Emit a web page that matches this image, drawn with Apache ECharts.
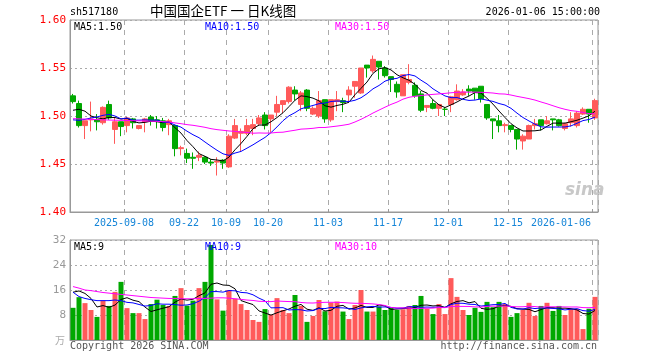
<!DOCTYPE html>
<html>
<head>
<meta charset="utf-8">
<script src="https://cdn.jsdelivr.net/npm/echarts@6/dist/echarts.min.js"></script>
<style>
html,body{margin:0;padding:0;background:#fff;}
#chart{width:660px;height:360px;}
</style>
</head>
<body>
<div id="chart"></div>
<script>
// ---- data ----
const dates = [
'2025-08-26','2025-08-27','2025-08-28','2025-08-29','2025-09-01','2025-09-02','2025-09-03','2025-09-04','2025-09-05','2025-09-08',
'2025-09-09','2025-09-10','2025-09-11','2025-09-12','2025-09-15','2025-09-16','2025-09-17','2025-09-18','2025-09-19','2025-09-22',
'2025-09-23','2025-09-24','2025-09-25','2025-09-26','2025-09-29','2025-09-30','2025-10-09','2025-10-10','2025-10-13','2025-10-14',
'2025-10-15','2025-10-16','2025-10-17','2025-10-20','2025-10-21','2025-10-22','2025-10-23','2025-10-24','2025-10-27','2025-10-28',
'2025-10-29','2025-10-30','2025-10-31','2025-11-03','2025-11-04','2025-11-05','2025-11-06','2025-11-07','2025-11-10','2025-11-11',
'2025-11-12','2025-11-13','2025-11-14','2025-11-17','2025-11-18','2025-11-19','2025-11-20','2025-11-21','2025-11-24','2025-11-25',
'2025-11-26','2025-11-27','2025-11-28','2025-12-01','2025-12-02','2025-12-03','2025-12-04','2025-12-05','2025-12-08','2025-12-09',
'2025-12-10','2025-12-11','2025-12-12','2025-12-15','2025-12-16','2025-12-17','2025-12-18','2025-12-19','2025-12-22','2025-12-23',
'2025-12-24','2025-12-25','2025-12-26','2025-12-29','2025-12-30','2025-12-31','2026-01-05','2026-01-06'
];
const opens = [
1.521,1.513,1.490,1.496,1.496,1.493,1.512,1.486,1.494,1.490,
1.497,1.487,1.494,1.499,1.496,1.495,1.491,1.490,1.466,1.461,
1.457,1.457,1.457,1.452,1.452,1.454,1.447,1.477,1.482,1.482,
1.487,1.492,1.501,1.497,1.504,1.512,1.515,1.527,1.512,1.527,
1.502,1.500,1.517,1.496,1.515,1.516,1.522,1.531,1.524,1.553,
1.547,1.557,1.550,1.541,1.533,1.521,1.535,1.532,1.523,1.509,
1.513,1.508,1.507,1.512,1.517,1.522,1.528,1.529,1.531,1.512,
1.497,1.495,1.490,1.490,1.486,1.474,1.476,1.490,1.496,1.492,
1.497,1.496,1.487,1.493,1.490,1.502,1.507,1.498
];
const closes = [
1.515,1.490,1.495,1.497,1.494,1.509,1.498,1.494,1.489,1.498,
1.493,1.490,1.497,1.495,1.495,1.488,1.495,1.466,1.467,1.456,
1.456,1.459,1.452,1.451,1.453,1.451,1.479,1.490,1.484,1.490,
1.491,1.498,1.490,1.501,1.512,1.516,1.530,1.523,1.524,1.508,
1.508,1.516,1.497,1.517,1.517,1.514,1.527,1.536,1.550,1.550,
1.559,1.551,1.542,1.538,1.525,1.543,1.538,1.521,1.506,1.511,
1.508,1.512,1.507,1.520,1.526,1.525,1.526,1.525,1.518,1.498,
1.495,1.490,1.491,1.486,1.476,1.479,1.490,1.492,1.490,1.495,
1.496,1.490,1.492,1.497,1.503,1.507,1.502,1.516
];
const lows = [
1.513,1.488,1.476,1.484,1.485,1.491,1.496,1.471,1.479,1.483,
1.487,1.486,1.483,1.490,1.487,1.484,1.480,1.458,1.459,1.451,
1.445,1.453,1.450,1.448,1.438,1.445,1.446,1.476,1.463,1.480,
1.480,1.490,1.486,1.483,1.500,1.503,1.513,1.516,1.505,1.505,
1.501,1.498,1.493,1.494,1.505,1.504,1.514,1.519,1.523,1.540,
1.545,1.538,1.540,1.525,1.519,1.521,1.533,1.519,1.504,1.504,
1.507,1.500,1.500,1.504,1.516,1.521,1.521,1.517,1.514,1.496,
1.476,1.483,1.483,1.483,1.465,1.465,1.476,1.486,1.485,1.491,
1.485,1.489,1.485,1.489,1.488,1.501,1.493,1.496
];
const highs = [
1.523,1.516,1.495,1.515,1.502,1.510,1.516,1.498,1.494,1.499,
1.498,1.490,1.498,1.501,1.500,1.498,1.497,1.491,1.469,1.466,
1.462,1.463,1.458,1.455,1.457,1.455,1.481,1.497,1.487,1.497,
1.497,1.501,1.504,1.501,1.521,1.516,1.531,1.531,1.526,1.528,
1.510,1.526,1.517,1.517,1.526,1.519,1.531,1.536,1.550,1.553,
1.563,1.557,1.552,1.541,1.536,1.543,1.554,1.535,1.526,1.511,
1.517,1.512,1.509,1.521,1.533,1.528,1.532,1.529,1.531,1.512,
1.497,1.501,1.493,1.490,1.486,1.481,1.491,1.497,1.496,1.500,
1.497,1.497,1.493,1.504,1.505,1.509,1.507,1.518
];
const volumes = [
10.3,13.7,11.8,9.6,7.4,12.6,10.9,15.4,18.6,10.2,
8.6,8.6,6.7,11.5,12.9,11.2,10.9,14.1,16.6,11.0,
12.6,16.6,18.6,30.4,13.0,9.4,16.0,13.2,11.5,9.6,
6.4,5.8,9.9,8.1,13.4,9.6,8.6,14.4,10.9,5.8,
7.7,12.8,9.2,12.0,12.3,9.1,6.7,11.2,16.0,9.1,
9.1,10.7,9.6,10.5,9.6,9.8,10.9,11.2,14.1,10.0,
8.3,11.5,8.3,19.8,13.8,9.6,8.0,10.3,9.0,12.2,
10.5,12.2,11.5,7.4,8.6,9.6,11.9,7.7,10.9,11.9,
9.3,10.9,8.0,10.0,10.0,3.5,10.0,13.8
];
// moving-average values before the window is full (earlier days not shown)
const ma5Head  = [1.506,1.507,1.505,1.500];
const ma10Head = [1.496,1.4955,1.4965,1.498,1.499,1.5007,1.5017,1.500,1.497];
const ma30Head = [1.4972,1.4970,1.4968,1.4965,1.4962,1.4960,1.4958,1.4956,1.4955,1.4953,
                  1.4951,1.4950,1.4948,1.4946,1.4944,1.4941,1.4938,1.4928,1.4920,1.4910,
                  1.4903,1.4893,1.4882,1.4868,1.4858,1.4851,1.4844,1.4840,1.4833];
const vma5Head  = [15.3,15.7,14.9,13.3];
const vma10Head = [15.3,13.9,13.3,12.9,12.6,12.6,12.6,12.8,12.6];
const vma30Head = [17.1,16.6,16.0,15.8,15.5,15.2,15.0,14.8,14.6,14.4,
                   14.2,14.0,13.8,13.6,13.5,13.4,13.3,13.3,13.2,13.2,
                   13.2,13.3,13.3,13.4,13.5,13.5,13.4,13.2,13.0];
const labelDates = ['2025-09-08','2025-09-22','2025-10-09','2025-10-20','2025-11-03','2025-11-17','2025-12-01','2025-12-15','2026-01-06'];
const priceTicks = [1.40,1.45,1.50,1.55,1.60];
const volTicks = [0,8,16,24,32];

// ---- helpers ----
function movingAvg(arr, n, head){
  return arr.map((v,i)=>{
    if(i < n-1) return head[i];
    let s=0; for(let j=i-n+1;j<=i;j++) s+=arr[j];
    return s/n;
  });
}
const ma5 = movingAvg(closes,5,ma5Head);
const ma10 = movingAvg(closes,10,ma10Head);
const ma30 = movingAvg(closes,30,ma30Head);
const vma5 = movingAvg(volumes,5,vma5Head);
const vma10 = movingAvg(volumes,10,vma10Head);
const vma30 = movingAvg(volumes,30,vma30Head);
const labelIdx = labelDates.map(d=>dates.indexOf(d));
const last = dates.length-1;

const RED='#ff5a5a', GREEN='#00a800';
const MONO='DejaVu Sans Mono';
const candleData = dates.map((d,i)=>[opens[i],closes[i],lows[i],highs[i]]);
const volData = volumes.map((v,i)=>({value:v,itemStyle:{color: closes[i]>=opens[i]?RED:GREEN}}));

const showAt = (i)=>labelIdx.indexOf(i)>=0;
function xAxisBase(gi, withLabels){
  return {
    type:'category', gridIndex:gi, data:dates, boundaryGap:true,
    axisLine:{show:true,lineStyle:{color:'#999',width:1}},
    axisTick:{show:withLabels, interval:(i)=>showAt(i), inside:true, length:3, lineStyle:{color:'#999'}},
    axisLabel: withLabels ? {
      show:true, interval:(i)=>showAt(i), color:'#1585d8', fontFamily:MONO, fontSize:10, margin:6,
      formatter:(v,i)=>{
        const k = labelIdx.indexOf(i);
        const prev = k>0 ? labelDates[k-1] : null;
        const txt = (!prev || prev.slice(0,4)!==v.slice(0,4)) ? v : v.slice(5);
        return i===last ? '{l|'+txt+'}' : '{n|'+txt+'}';
      },
      rich:{ n:{padding:[0,6,0,0],color:'#1585d8',fontFamily:MONO,fontSize:10},
             l:{padding:[0,68,0,0],color:'#1585d8',fontFamily:MONO,fontSize:10} }
    } : {show:false},
    splitLine:{show:true, interval:(i)=>showAt(i), lineStyle:{color:'#aaa',type:[5,5],width:1}}
  };
}

const chart = echarts.init(document.getElementById('chart'), null, {renderer:'canvas'});
const option = {
  animation:false,
  backgroundColor:'#fff',
  grid:[
    {left:70, top:20, width:528, height:192, show:true, borderColor:'#999', borderWidth:1, backgroundColor:'transparent'},
    {left:70, top:240, width:528, height:100, show:true, borderColor:'#999', borderWidth:1, backgroundColor:'transparent'}
  ],
  xAxis:[ xAxisBase(0,true), xAxisBase(1,false) ],
  yAxis:[
    {type:'value', gridIndex:0, min:priceTicks[0], max:priceTicks[priceTicks.length-1], interval:0.05, scale:true,
     axisLine:{show:true,lineStyle:{color:'#999'}}, axisTick:{show:false},
     axisLabel:{color:'#ff0000', fontFamily:MONO, fontSize:11, margin:4, formatter:(v)=>v.toFixed(2)},
     splitLine:{show:true, lineStyle:{color:'#aaa', type:[2,3], width:1}}},
    {type:'value', gridIndex:1, min:volTicks[0], max:volTicks[volTicks.length-1], interval:8,
     axisLine:{show:true,lineStyle:{color:'#999'}}, axisTick:{show:false},
     axisLabel:{color:'#999', fontFamily:MONO, fontSize:11, margin:4, formatter:(v)=>v===0?'':String(v)},
     splitLine:{show:true, lineStyle:{color:'#aaa', type:[2,3], width:1}}}
  ],
  series:[
    {type:'candlestick', xAxisIndex:0, yAxisIndex:0, data:candleData, barWidth:5,
     itemStyle:{color:RED, color0:GREEN, borderColor:RED, borderColor0:GREEN, borderWidth:1}},
    {type:'line', xAxisIndex:0, yAxisIndex:0, data:ma5, symbol:'none', lineStyle:{color:'#000',width:1}, z:5},
    {type:'line', xAxisIndex:0, yAxisIndex:0, data:ma10, symbol:'none', lineStyle:{color:'#0000ff',width:1}, z:5},
    {type:'line', xAxisIndex:0, yAxisIndex:0, data:ma30, symbol:'none', lineStyle:{color:'#ff00ff',width:1}, z:5},
    {type:'bar', xAxisIndex:1, yAxisIndex:1, data:volData, barWidth:5},
    {type:'line', xAxisIndex:1, yAxisIndex:1, data:vma5, symbol:'none', lineStyle:{color:'#000',width:1}, z:5},
    {type:'line', xAxisIndex:1, yAxisIndex:1, data:vma10, symbol:'none', lineStyle:{color:'#0000ff',width:1}, z:5},
    {type:'line', xAxisIndex:1, yAxisIndex:1, data:vma30, symbol:'none', lineStyle:{color:'#ff00ff',width:1}, z:5}
  ],
  graphic:[
    {type:'text', left:70, top:7, style:{text:'sh517180', fill:'#000', font:'10px "DejaVu Sans Mono"'}},
    {type:'text', left:150, top:4, style:{text:'中国国企ETF 一 日K线图', fill:'#000', font:'13.5px "Noto Sans CJK SC"'}},
    {type:'text', right:60, top:7, style:{text:'2026-01-06 15:00:00', fill:'#000', font:'10px "DejaVu Sans Mono"'}},
    {type:'text', left:74, top:22, z:10, style:{text:'MA5:'+ma5[last].toFixed(2), fill:'#000', font:'10px "DejaVu Sans Mono"'}},
    {type:'text', left:205, top:22, z:10, style:{text:'MA10:'+ma10[last].toFixed(2), fill:'#0000ff', font:'10px "DejaVu Sans Mono"'}},
    {type:'text', left:335, top:22, z:10, style:{text:'MA30:'+ma30[last].toFixed(2), fill:'#ff00ff', font:'10px "DejaVu Sans Mono"'}},
    {type:'text', left:74, top:242, z:10, style:{text:'MA5:'+Math.floor(vma5[last]), fill:'#000', font:'10px "DejaVu Sans Mono"'}},
    {type:'text', left:205, top:242, z:10, style:{text:'MA10:'+Math.floor(vma10[last]), fill:'#0000ff', font:'10px "DejaVu Sans Mono"'}},
    {type:'text', left:335, top:242, z:10, style:{text:'MA30:'+Math.floor(vma30[last]), fill:'#ff00ff', font:'10px "DejaVu Sans Mono"'}},
    {type:'text', left:55, top:335, style:{text:'万', fill:'#aaa', font:'10px "Noto Sans CJK SC"'}},
    {type:'text', left:70, top:341, style:{text:'Copyright 2026 SINA.COM', fill:'#555', font:'10px "DejaVu Sans Mono"'}},
    {type:'text', right:63, top:341, style:{text:'http://finance.sina.com.cn', fill:'#555', font:'10px "DejaVu Sans Mono"'}},
    {type:'text', left:565, top:182, z:1, style:{text:'sina', fill:'#c8c8c8', font:'italic bold 17px "DejaVu Sans"'}}
  ]
};
chart.setOption(option);
</script>
</body>
</html>
